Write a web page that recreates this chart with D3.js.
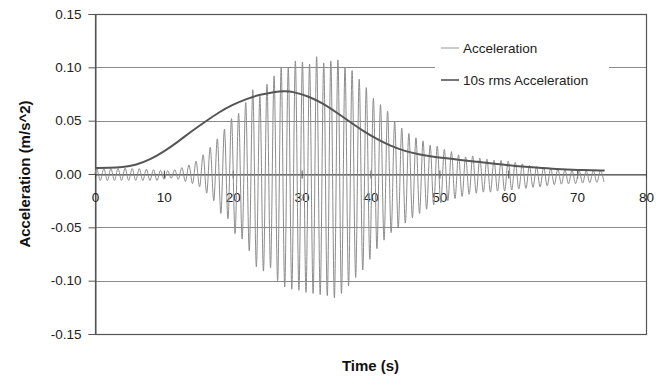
<!DOCTYPE html>
<html>
<head>
<meta charset="utf-8">
<script src="https://cdn.jsdelivr.net/npm/d3@7"></script>
<style>
  body { margin: 0; background: #fff; }
  svg { font-family: "Liberation Sans", Arial, sans-serif; }
</style>
</head>
<body>
<svg id="chart" width="659" height="380"></svg>
<script>
// acceleration oscillation, one crest and one trough per cycle
var cycleStart = 0.25;
var cyclePeriod = 1.03;
var crests = [
    0.005, 0.005, 0.005, 0.005, 0.0055, 0.005, 0.005, 0.0045, 0.004, 0.0035,
    0.003, 0.004, 0.006, 0.0085, 0.012, 0.018, 0.025, 0.033, 0.042, 0.052,
    0.057, 0.067, 0.079, 0.073, 0.084, 0.092, 0.100, 0.100, 0.106, 0.105,
    0.103, 0.110, 0.104, 0.106, 0.107, 0.100, 0.097, 0.089, 0.081, 0.071,
    0.065, 0.059, 0.049, 0.043, 0.038, 0.034, 0.031, 0.027, 0.026, 0.023,
    0.021, 0.018, 0.016, 0.017, 0.015, 0.014, 0.013, 0.0127, 0.012, 0.011,
    0.0095, 0.008, 0.007, 0.0063, 0.0055, 0.0047, 0.004, 0.0035, 0.003, 0.003,
    0.003, 0.003
];
var troughs = [
    -0.006, -0.006, -0.006, -0.006, -0.006, -0.006, -0.006, -0.006, -0.006, -0.005,
    -0.004, -0.005, -0.007, -0.009, -0.012, -0.018, -0.025, -0.037, -0.042, -0.056,
    -0.061, -0.072, -0.087, -0.091, -0.088, -0.100, -0.106, -0.108, -0.109, -0.111,
    -0.112, -0.113, -0.114, -0.116, -0.112, -0.105, -0.097, -0.090, -0.080, -0.070,
    -0.062, -0.055, -0.050, -0.046, -0.041, -0.037, -0.033, -0.029, -0.027, -0.025,
    -0.023, -0.021, -0.019, -0.018, -0.017, -0.017, -0.016, -0.016, -0.015, -0.014,
    -0.0135, -0.0126, -0.012, -0.011, -0.010, -0.0095, -0.0092, -0.009, -0.0085, -0.008,
    -0.0078, -0.0073
];

// 10s rms acceleration
var rmsTimes = [0, 2, 4, 6, 8, 10, 12, 14, 16, 18, 20, 22, 24, 26, 27.5, 29, 31, 33, 35, 37,
    39, 41, 43, 45, 47, 49, 52, 55, 58, 61, 64, 67, 70, 74];
var rmsValues = [0.0056, 0.0057, 0.0062, 0.0085, 0.0135, 0.021, 0.030, 0.040, 0.049, 0.058,
    0.065, 0.0705, 0.0745, 0.077, 0.0778, 0.0768, 0.0728, 0.0665, 0.058, 0.049,
    0.040, 0.0325, 0.026, 0.0215, 0.0183, 0.0162, 0.014, 0.0118, 0.0095, 0.0075,
    0.006, 0.0046, 0.0038, 0.0032];

var xTicks = [0, 10, 20, 30, 40, 50, 60, 70, 80];
var yTicks = [0.15, 0.10, 0.05, 0.00, -0.05, -0.10, -0.15];
var legendLabels = ["Acceleration", "10s rms Acceleration"];

var plotLeft = 95, plotRight = 646, plotTop = 14, plotBottom = 334;

var x = d3.scaleLinear().domain([0, 80]).range([plotLeft, plotRight]);
var y = d3.scaleLinear().domain([-0.15, 0.15]).range([plotBottom, plotTop]);

var svg = d3.select("#chart");

// gridlines
svg.append("g")
    .selectAll("line")
    .data(yTicks)
    .enter()
    .append("line")
    .attr("x1", plotLeft)
    .attr("x2", plotRight)
    .attr("y1", d => Math.round(y(d)) + 0.5)
    .attr("y2", d => Math.round(y(d)) + 0.5)
    .attr("stroke", "#8a8a8a")
    .attr("stroke-width", 1);

// plot border
svg.append("rect")
    .attr("x", plotLeft + 0.5)
    .attr("y", plotTop + 0.5)
    .attr("width", plotRight - plotLeft)
    .attr("height", plotBottom - plotTop)
    .attr("fill", "none")
    .attr("stroke", "#555")
    .attr("stroke-width", 1.2);

// y axis
var yAxis = svg.append("g")
    .attr("transform", "translate(" + (plotLeft + 0.5) + ",0)")
    .call(d3.axisLeft(y).tickValues(yTicks).tickSize(7).tickPadding(7)
        .tickFormat(d3.format(".2f")));
yAxis.select(".domain").attr("stroke", "#555");
yAxis.selectAll(".tick line").attr("stroke", "#555");
yAxis.selectAll("text")
    .attr("font-size", 13.5)
    .attr("fill", "#222")
    .text(d => d3.format(".2f")(d).replace("−", "-"));

// x axis on the zero line
var xAxis = svg.append("g")
    .attr("transform", "translate(0," + (Math.round(y(0)) + 0.5) + ")")
    .call(d3.axisBottom(x).tickValues(xTicks).tickSize(4).tickPadding(14));
xAxis.select(".domain").attr("stroke", "#444");
xAxis.selectAll(".tick line").attr("y1", -4).attr("stroke", "#444");
xAxis.selectAll("text")
    .attr("font-size", 13.5)
    .attr("fill", "#222");

// acceleration trace
var accPoints = [[0, 0]];
crests.forEach((c, k) => {
    var t = cycleStart + k * cyclePeriod;
    accPoints.push([t, c]);
    accPoints.push([t + cyclePeriod / 2, troughs[k]]);
});

var line = d3.line()
    .x(d => x(d[0]))
    .y(d => y(d[1]))
    .curve(d3.curveMonotoneX);

svg.append("path")
    .datum(accPoints)
    .attr("d", line)
    .attr("fill", "none")
    .attr("stroke", "#8c8c8c")
    .attr("stroke-width", 1);

// rms trace
svg.append("path")
    .datum(rmsTimes.map((t, i) => [t, rmsValues[i]]))
    .attr("d", line.curve(d3.curveBasis))
    .attr("fill", "none")
    .attr("stroke", "#555")
    .attr("stroke-width", 2);

// legend
var legend = svg.append("g");
legend.append("rect")
    .attr("x", 435)
    .attr("y", 30)
    .attr("width", 174)
    .attr("height", 66)
    .attr("fill", "#fff");

var legendColors = ["#a8a8a8", "#555"];
legendLabels.forEach((label, i) => {
    var ly = 48 + i * 32;
    legend.append("line")
        .attr("x1", 441)
        .attr("x2", 459)
        .attr("y1", ly)
        .attr("y2", ly)
        .attr("stroke", legendColors[i])
        .attr("stroke-width", i === 0 ? 1.2 : 1.6);
    legend.append("text")
        .attr("x", 463)
        .attr("y", ly + 5)
        .attr("font-size", 13.5)
        .attr("fill", "#222")
        .text(label);
});

// axis titles
svg.append("text")
    .attr("x", (plotLeft + plotRight) / 2)
    .attr("y", 371)
    .attr("text-anchor", "middle")
    .attr("font-size", 15)
    .attr("font-weight", "bold")
    .attr("fill", "#111")
    .text("Time (s)");

svg.append("text")
    .attr("transform", "translate(30," + ((plotTop + plotBottom) / 2) + ") rotate(-90)")
    .attr("text-anchor", "middle")
    .attr("font-size", 15)
    .attr("font-weight", "bold")
    .attr("fill", "#111")
    .text("Acceleration (m/s^2)");
</script>
</body>
</html>
